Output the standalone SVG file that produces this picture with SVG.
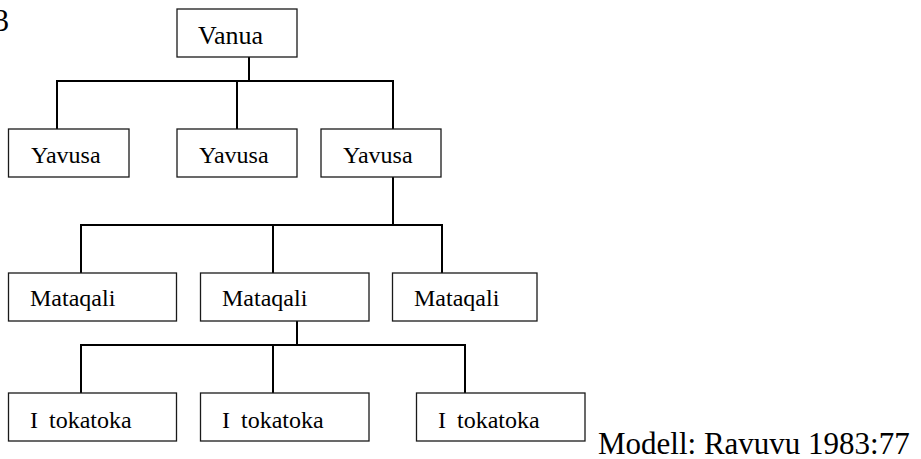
<svg xmlns="http://www.w3.org/2000/svg" width="921" height="459" viewBox="0 0 921 459">
<style>
.box{fill:#fff;stroke:#1a1a1a;stroke-width:1.3}
.lbl{font-family:"Liberation Serif","Times New Roman",serif;font-size:24px;fill:#000}
.big{font-family:"Liberation Serif","Times New Roman",serif;font-size:31px;fill:#000}
.con{fill:none;stroke:#000;stroke-width:2}
</style>
<rect width="921" height="459" fill="#fff"/>
<text class="big" x="9" y="31" text-anchor="end">3</text>
<g id="connectors">
<path class="con" d="M249 57V81M57 129V81H393V129M237 81V129"/>
<path class="con" d="M393 177V225M81 273V225H442V273M273 225V273"/>
<path class="con" d="M297 321V345M81 393V345H465V393M273 345V393"/>
</g>
<g id="vanua"><rect class="box" x="177" y="9" width="120" height="48"/><text class="lbl" x="198" y="43.5" style="font-size:26px">Vanua</text></g>
<g id="yavusa1"><rect class="box" x="8.5" y="129" width="120.5" height="48"/><text class="lbl" x="31" y="163">Yavusa</text></g>
<g id="yavusa2"><rect class="box" x="177" y="129" width="120" height="48"/><text class="lbl" x="199" y="163">Yavusa</text></g>
<g id="yavusa3"><rect class="box" x="321" y="129" width="120" height="48"/><text class="lbl" x="343" y="163">Yavusa</text></g>
<g id="mataqali1"><rect class="box" x="8.5" y="273" width="168" height="48"/><text class="lbl" x="30" y="306">Mataqali</text></g>
<g id="mataqali2"><rect class="box" x="200.5" y="273" width="168.5" height="48"/><text class="lbl" x="222" y="306">Mataqali</text></g>
<g id="mataqali3"><rect class="box" x="392.5" y="273" width="144.5" height="48"/><text class="lbl" x="414" y="306">Mataqali</text></g>
<g id="itokatoka1"><rect class="box" x="8.5" y="393" width="168" height="48"/><text class="lbl" x="30" y="428" word-spacing="5">I tokatoka</text></g>
<g id="itokatoka2"><rect class="box" x="200.5" y="393" width="168.5" height="48"/><text class="lbl" x="222" y="428" word-spacing="5">I tokatoka</text></g>
<g id="itokatoka3"><rect class="box" x="416.5" y="393" width="168.5" height="48"/><text class="lbl" x="438" y="428" word-spacing="5">I tokatoka</text></g>
<text class="big" x="598" y="454">Modell: Ravuvu 1983:77</text>
</svg>
